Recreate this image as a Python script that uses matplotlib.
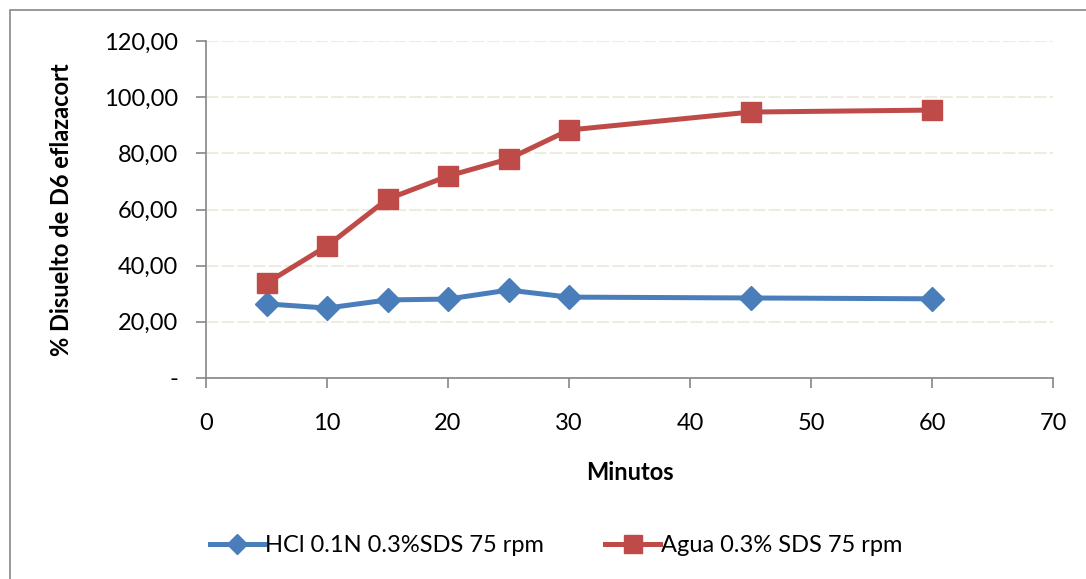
import matplotlib
matplotlib.use("Agg")
import matplotlib.pyplot as plt
from matplotlib.patches import Rectangle
from matplotlib.ticker import FuncFormatter

plt.rcParams['font.family'] = ['Lato', 'DejaVu Sans']

minutos = [5, 10, 15, 20, 25, 30, 45, 60]
hcl = [26.4, 24.9, 27.8, 28.1, 31.3, 28.8, 28.5, 28.2]
agua = [33.8, 47.0, 63.7, 71.9, 78.0, 88.3, 94.7, 95.4]
etiquetas = ['HCl 0.1N 0.3%SDS 75 rpm', 'Agua 0.3% SDS 75 rpm']

fig = plt.figure(figsize=(10.86, 5.79), dpi=100)
ax = fig.add_axes([206/1086, 1 - 378/579, (1053 - 206)/1086, (378 - 41)/579])

# marco exterior del grafico
fig.patches.append(Rectangle((10/1086, -0.05), 1.1, 1 - 10/579 + 0.05,
                             transform=fig.transFigure, fill=False,
                             edgecolor='#888888', linewidth=1.2))

ax.plot(minutos, hcl, color='#4A7EBB', lw=3.6, marker='D', ms=12,
        label=etiquetas[0], zorder=3)
ax.plot(minutos, agua, color='#BE4B48', lw=3.6, marker='s', ms=14.5,
        label=etiquetas[1], zorder=3)

ax.set_xlim(0, 70)
ax.set_ylim(0, 120)
ax.set_xticks(range(0, 71, 10))
ax.set_yticks(range(0, 121, 20))

def fmt(v, pos):
    if v == 0:
        return '-'
    return f'{v:.2f}'.replace('.', ',')

ax.yaxis.set_major_formatter(FuncFormatter(fmt))
ax.grid(axis='y', color='#EEEBE0', lw=1.5, linestyle=(0, (6, 1.5)))
ax.set_axisbelow(True)

for s in ['top', 'right']:
    ax.spines[s].set_visible(False)
for s in ['left', 'bottom']:
    ax.spines[s].set_color('#868686')
    ax.spines[s].set_linewidth(1.2)
ax.tick_params(direction='out', length=7, width=1.2, color='#868686',
               labelsize=17)
ax.tick_params(axis='y', pad=13)
ax.tick_params(axis='x', pad=18)

ax.set_xlabel('Minutos', fontsize=17, fontweight='bold')
ax.set_ylabel('% Disuelto de D6 eflazacort', fontsize=17, fontweight='bold')
ax.xaxis.set_label_coords(630/1086, 1 - 473/579, transform=fig.transFigure)
ax.yaxis.set_label_coords(62/1086, 1 - 210/579, transform=fig.transFigure)
ax.xaxis.label.set_va('center')
ax.yaxis.label.set_va('center')

fig.legend(loc='center', bbox_to_anchor=(556/1086, 1 - 546/579), ncol=2,
           frameon=False, fontsize=17, handlelength=2.3, columnspacing=2.6,
           handletextpad=0.05, markerscale=0.85)

fig.savefig('out.png', dpi=100)
